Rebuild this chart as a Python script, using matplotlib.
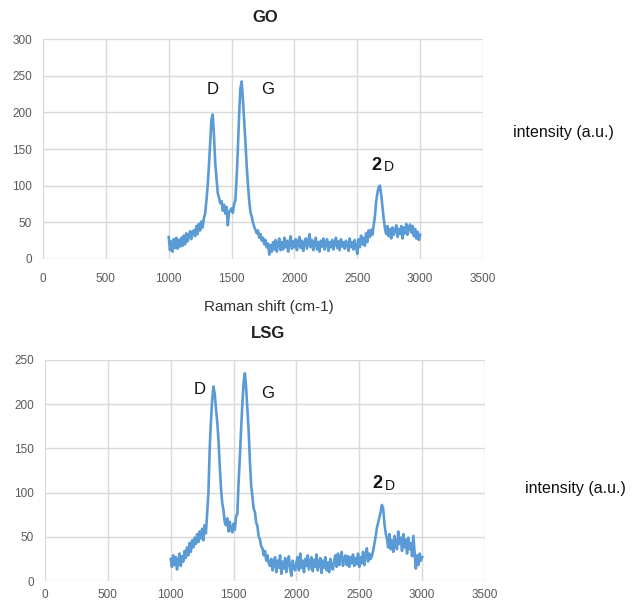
import numpy as np
import matplotlib
matplotlib.use("Agg")
import matplotlib.pyplot as plt

plt.rcParams['font.family'] = ['Liberation Sans', 'DejaVu Sans']

shift = list(range(1000, 3001, 10))

go_intensity = [
    30, 12, 24, 10, 27, 15, 29, 14, 26, 17,
    29, 18, 32, 20, 35, 24, 31, 38, 27, 37,
    39, 31, 45, 34, 48, 39, 51, 43, 56, 62,
    80, 100, 128, 160, 190, 197, 168, 131, 110, 90,
    84, 76, 79, 66, 74, 62, 71, 46, 63, 67,
    69, 63, 75, 80, 110, 150, 196, 232, 242, 218,
    190, 160, 128, 102, 80, 64, 58, 50, 44, 40,
    35, 39, 29, 34, 25, 29, 20, 26, 16, 21,
    6, 19, 10, 23, 13, 26, 10, 21, 28, 12,
    23, 13, 29, 16, 25, 10, 22, 31, 14, 24,
    16, 27, 12, 23, 30, 15, 25, 11, 22, 28,
    14, 24, 34, 16, 26, 12, 21, 29, 13, 23,
    10, 25, 17, 28, 13, 22, 27, 11, 23, 16,
    26, 13, 22, 29, 15, 24, 12, 27, 17, 23,
    14, 25, 19, 11, 28, 16, 23, 13, 26, 17,
    7, 27, 16, 32, 20, 29, 18, 35, 23, 39,
    30, 40, 33, 45, 58, 78, 90, 98, 100, 88,
    72, 55, 42, 34, 45, 31, 41, 28, 43, 33,
    39, 46, 30, 41, 34, 45, 28, 43, 35, 48,
    33, 43, 47, 36, 45, 31, 41, 28, 37, 26,
    33,
]

lsg_intensity = [
    25, 16, 29, 18, 27, 13, 23, 31, 17, 28,
    22, 34, 26, 38, 29, 43, 33, 46, 38, 49,
    42, 53, 44, 56, 48, 59, 46, 63, 54, 78,
    100, 150, 180, 205, 220, 212, 195, 180, 160, 130,
    105, 88, 80, 66, 63, 71, 56, 67, 58, 55,
    65, 58, 73, 76, 112, 140, 172, 200, 225, 235,
    218, 195, 170, 135, 108, 95, 82, 78, 66, 62,
    50, 47, 39, 37, 29, 34, 23, 29, 20, 17,
    25, 12, 21, 27, 10, 23, 15, 29, 8, 22,
    14, 26, 10, 21, 28, 13, 6, 23, 16, 12,
    21, 27, 12, 31, 15, 23, 10, 25, 17, 29,
    13, 22, 27, 11, 24, 16, 30, 12, 21, 26,
    9, 23, 15, 27, 12, 21, 10, 25, 16, 13,
    23, 29, 16, 31, 18, 26, 33, 17, 25, 29,
    18, 28, 16, 27, 20, 30, 17, 26, 19, 31,
    16, 27, 20, 33, 18, 29, 37, 22, 31, 25,
    28, 34, 42, 50, 60, 66, 72, 78, 86, 82,
    65, 54, 48, 38, 53, 36, 46, 33, 51, 40,
    36, 56, 42, 49, 34, 53, 38, 47, 31, 49,
    36, 43, 28, 51, 33, 14, 29, 18, 31, 23,
    27,
]

x_ticks = [0, 500, 1000, 1500, 2000, 2500, 3000, 3500]
go_yticks = [0, 50, 100, 150, 200, 250, 300]
lsg_yticks = [0, 50, 100, 150, 200, 250]

W, H = 640, 605
fig = plt.figure(figsize=(W / 100, H / 100), dpi=100)

def px_axes(l, t, r, b):
    return fig.add_axes([l / W, 1 - b / H, (r - l) / W, (b - t) / H])

ax1 = px_axes(43, 39, 483, 259)
ax2 = px_axes(45, 360, 485, 581)

line_color = '#5b9bd5'
grid_color = '#d9d9d9'
tick_color = '#595959'

for ax, yv, yt in [(ax1, go_intensity, go_yticks), (ax2, lsg_intensity, lsg_yticks)]:
    ax.plot(shift, yv, color=line_color, lw=1.9, zorder=3, solid_joinstyle='round')
    ax.set_xlim(0, 3500)
    ax.set_ylim(0, yt[-1])
    ax.set_xticks(x_ticks)
    ax.set_yticks(yt)
    ax.grid(True, color=grid_color, lw=1, zorder=0)
    ax.set_axisbelow(True)
    for s in ax.spines.values():
        s.set_visible(False)
    ax.tick_params(length=0, labelsize=8.5, labelcolor=tick_color, pad=10)
    ax.tick_params(axis='y', pad=8)
    ax.patch.set_alpha(0)

ax2.tick_params(axis='x', pad=6)

def ftext(x, y, s, **kw):
    fig.text(x / W, 1 - y / H, s, **kw)

ftext(265, 17, 'GO', ha='center', va='center', fontsize=12, fontweight='bold', color='#222222')
ftext(268, 333, 'LSG', ha='center', va='center', fontsize=12, fontweight='bold', color='#222222')
ftext(269, 307, 'Raman shift (cm-1)', ha='center', va='center', fontsize=11, color='#333333')
ftext(563, 133, 'intensity (a.u.)', ha='center', va='center', fontsize=11.5, color='#111111')
ftext(575, 489, 'intensity (a.u.)', ha='center', va='center', fontsize=11.5, color='#111111')

lab = dict(ha='center', va='center', color='#111111')
ftext(213, 90, 'D', fontsize=12, **lab)
ftext(268, 90, 'G', fontsize=12, **lab)
ftext(376, 166, '2', fontsize=13, fontweight='bold', **lab)
ftext(389, 167, 'D', fontsize=10, **lab)

ftext(200, 390, 'D', fontsize=12, **lab)
ftext(268, 393, 'G', fontsize=12, **lab)
ftext(377, 484, '2', fontsize=13, fontweight='bold', **lab)
ftext(390, 486, 'D', fontsize=10, **lab)

fig.savefig('out.png', dpi=100, facecolor='white')
